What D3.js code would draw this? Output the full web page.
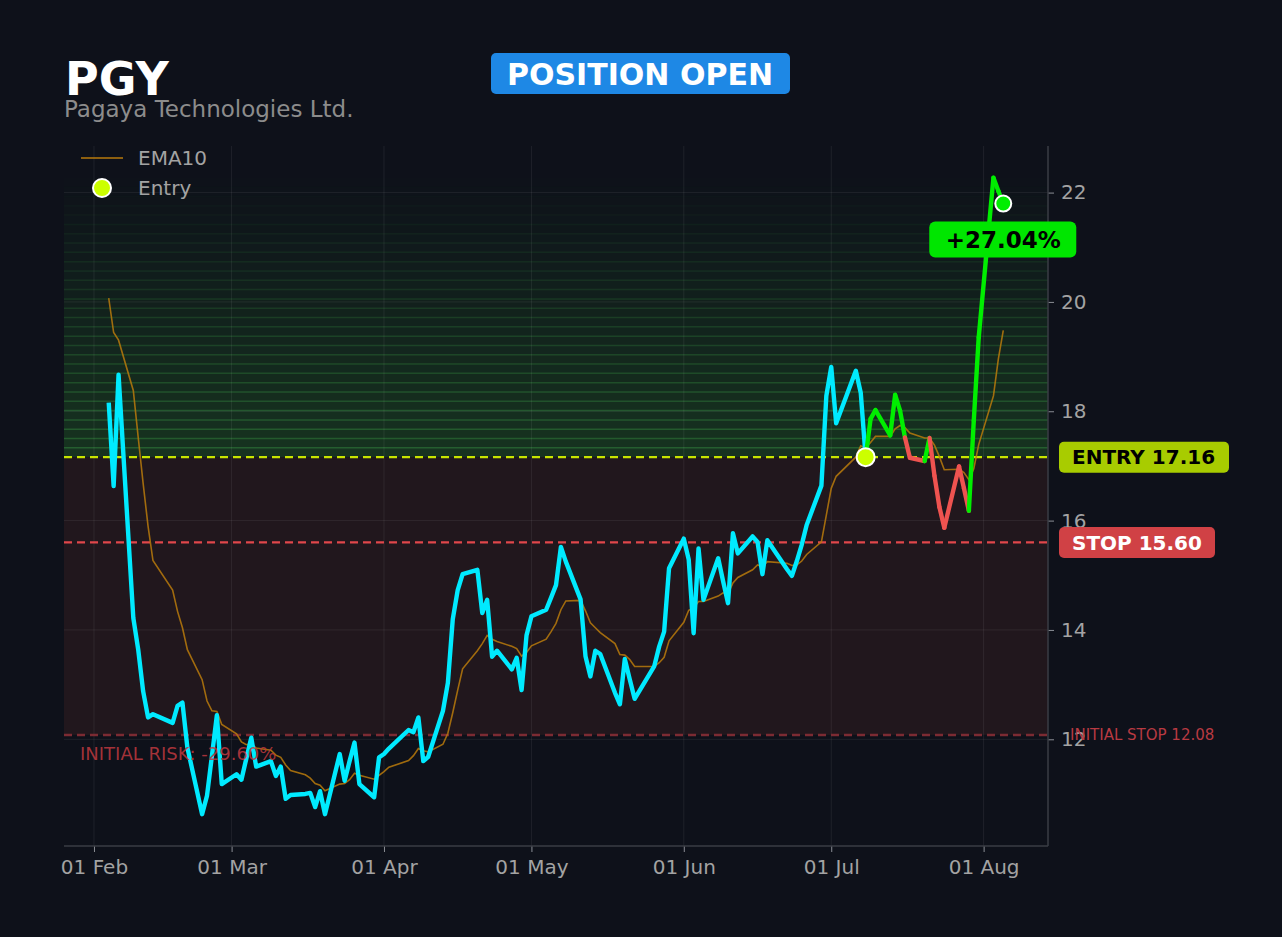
<!DOCTYPE html>
<html>
<head>
<meta charset="utf-8">
<script src="https://cdn.jsdelivr.net/npm/d3@7"></script>
<style>
  html, body { margin: 0; padding: 0; background: #0e111a; }
  svg { display: block; font-family: "DejaVu Sans", sans-serif; }
</style>
</head>
<body>
<div id="chart"></div>
<script>
// trading days, closing price and EMA10
var dates = [
  "2026-02-04","2026-02-05","2026-02-06","2026-02-09","2026-02-10","2026-02-11","2026-02-12","2026-02-13",
  "2026-02-17","2026-02-18","2026-02-19","2026-02-20","2026-02-23","2026-02-24","2026-02-25","2026-02-26","2026-02-27",
  "2026-03-02","2026-03-03","2026-03-04","2026-03-05","2026-03-06","2026-03-09","2026-03-10","2026-03-11","2026-03-12","2026-03-13",
  "2026-03-16","2026-03-17","2026-03-18","2026-03-19","2026-03-20","2026-03-23","2026-03-24","2026-03-25","2026-03-26","2026-03-27",
  "2026-03-30","2026-03-31","2026-04-01","2026-04-02","2026-04-06","2026-04-07","2026-04-08","2026-04-09","2026-04-10",
  "2026-04-13","2026-04-14","2026-04-15","2026-04-16","2026-04-17","2026-04-20","2026-04-21","2026-04-22","2026-04-23","2026-04-24",
  "2026-04-27","2026-04-28","2026-04-29","2026-04-30","2026-05-01","2026-05-04","2026-05-05","2026-05-06","2026-05-07","2026-05-08",
  "2026-05-11","2026-05-12","2026-05-13","2026-05-14","2026-05-15","2026-05-18","2026-05-19","2026-05-20","2026-05-21","2026-05-22",
  "2026-05-26","2026-05-27","2026-05-28","2026-05-29","2026-06-01","2026-06-02","2026-06-03","2026-06-04","2026-06-05",
  "2026-06-08","2026-06-09","2026-06-10","2026-06-11","2026-06-12","2026-06-15","2026-06-16","2026-06-17","2026-06-18",
  "2026-06-22","2026-06-23","2026-06-24","2026-06-25","2026-06-26","2026-06-29","2026-06-30","2026-07-01","2026-07-02",
  "2026-07-06","2026-07-07","2026-07-08","2026-07-09","2026-07-10","2026-07-13","2026-07-14","2026-07-15","2026-07-16","2026-07-17",
  "2026-07-20","2026-07-21","2026-07-22","2026-07-23","2026-07-24","2026-07-27","2026-07-28","2026-07-29","2026-07-30","2026-07-31",
  "2026-08-03","2026-08-04","2026-08-05"
]
var close = [
  18.16,16.63,18.67,14.22,13.64,12.88,12.40,12.46,
  12.30,12.61,12.67,11.85,10.63,10.97,11.70,12.44,11.18,
  11.36,11.26,11.65,12.03,11.50,11.60,11.33,11.50,10.91,10.98,
  11.00,11.02,10.76,11.05,10.63,11.73,11.24,11.60,11.94,11.18,
  10.94,11.67,11.73,11.83,12.17,12.13,12.40,11.60,11.68,
  12.52,13.03,14.20,14.73,15.02,15.10,14.31,14.55,13.51,13.62,
  13.28,13.49,12.90,13.90,14.25,14.37,14.59,14.82,15.52,15.25,
  14.56,13.52,13.15,13.62,13.56,12.85,12.64,13.47,13.10,12.74,
  13.34,13.70,13.97,15.13,15.67,15.29,13.94,15.49,14.55,
  15.31,14.89,14.49,15.77,15.40,15.71,15.61,15.02,15.64,
  15.11,14.99,15.26,15.56,15.92,16.64,18.28,18.81,17.78,
  18.74,18.34,17.16,17.86,18.02,17.56,18.30,18.01,17.52,17.15,
  17.09,17.51,16.82,16.25,15.87,16.99,16.59,16.18,17.83,19.35,
  22.27,22.03,21.80
]
var ema10 = [
  20.07,19.44,19.30,18.38,17.52,16.68,15.90,15.27,
  14.73,14.34,14.04,13.64,13.09,12.70,12.52,12.51,12.27,
  12.10,11.95,11.90,11.92,11.84,11.80,11.71,11.67,11.53,11.43,
  11.35,11.29,11.19,11.16,11.06,11.18,11.19,11.26,11.38,11.34,
  11.27,11.34,11.41,11.49,11.61,11.70,11.83,11.79,11.77,
  11.91,12.11,12.49,12.90,13.29,13.62,13.75,13.90,13.83,13.79,
  13.70,13.66,13.52,13.59,13.71,13.83,13.97,14.12,14.37,14.53,
  14.54,14.35,14.13,14.04,13.95,13.75,13.55,13.54,13.46,13.33,
  13.33,13.40,13.50,13.80,14.14,14.36,14.40,14.52,14.52,
  14.62,14.68,14.66,14.86,14.96,15.10,15.19,15.16,15.25,
  15.22,15.18,15.19,15.26,15.38,15.61,16.10,16.59,16.81,
  17.16,17.37,17.33,17.43,17.54,17.54,17.68,17.74,17.70,17.60,
  17.51,17.51,17.38,17.17,16.93,16.94,16.88,16.75,16.95,17.39,
  18.28,18.96,19.48
]

var ticker = "PGY"
var companyName = "Pagaya Technologies Ltd."
var statusText = "POSITION OPEN"
var entryDate = "2026-07-08"
var entryPrice = 17.16
var stopPrice = 15.60
var initialStop = 12.08
var returnText = "+27.04%"
var initialRiskText = "INITIAL RISK: -29.60%"

var W = 1282, H = 937
var plot = {left: 64, right: 1048, top: 146, bottom: 846}

var parseTime = d3.timeParse("%Y-%m-%d")
var data = dates.map(function(d, i) {
  return {date: parseTime(d), close: close[i], ema: ema10[i]}
})
var entryIdx = dates.indexOf(entryDate)
var last = data[data.length - 1]

var svg = d3.select('#chart').append('svg')
    .attr('width', W)
    .attr('height', H)

svg.append('rect').attr('width', W).attr('height', H).attr('fill', '#0e111a')

// matplotlib-like 5% margins
var xExt = d3.extent(data, function(d) {return d.date})
var xPad = (xExt[1] - xExt[0]) * 0.05
var yMin = d3.min(data, function(d) {return d.close})
var yMax = d3.max(data, function(d) {return d.close})
var yPad = (yMax - yMin) * 0.05

var x = d3.scaleTime()
    .domain([new Date(+xExt[0] - xPad), new Date(+xExt[1] + xPad)])
    .range([plot.left, plot.right])
var y = d3.scaleLinear()
    .domain([yMin - yPad, yMax + yPad])
    .range([plot.bottom, plot.top])

var g = svg.append('g')

// risk zone (entry down to initial stop)
g.append('rect')
    .attr('x', plot.left)
    .attr('width', plot.right - plot.left)
    .attr('y', y(entryPrice))
    .attr('height', y(initialStop) - y(entryPrice))
    .attr('fill', '#21171d')

// profit zone: stacked green bands fading upward, entry up to the high
var nBands = 30
var bandH = (yMax - entryPrice) / nBands
var bands = d3.range(nBands)
g.selectAll('.band')
  .data(bands)
  .enter().append('rect')
    .attr('class', 'band')
    .attr('x', plot.left)
    .attr('width', plot.right - plot.left)
    .attr('y', function(i) {return y(entryPrice + (i + 1) * bandH)})
    .attr('height', function(i) {return y(entryPrice + i * bandH) - y(entryPrice + (i + 1) * bandH)})
    .attr('fill', '#236328')
    .attr('fill-opacity', function(i) {return 0.42 * (1 - i / nBands)})
g.selectAll('.bandline')
  .data(bands)
  .enter().append('line')
    .attr('class', 'bandline')
    .attr('x1', plot.left)
    .attr('x2', plot.right)
    .attr('y1', function(i) {return y(entryPrice + (i + 1) * bandH)})
    .attr('y2', function(i) {return y(entryPrice + (i + 1) * bandH)})
    .attr('stroke', '#32823c')
    .attr('stroke-width', 1.5)
    .attr('stroke-opacity', function(i) {return 0.58 * (1 - (i + 1) / nBands)})

// grid
var xTicks = x.ticks(d3.timeMonth.every(1))
var yTicks = y.ticks(6)
g.selectAll('.vgrid')
  .data(xTicks)
  .enter().append('line')
    .attr('x1', function(d) {return x(d)})
    .attr('x2', function(d) {return x(d)})
    .attr('y1', plot.top)
    .attr('y2', plot.bottom)
    .attr('stroke', '#ffffff')
    .attr('stroke-opacity', 0.07)
g.selectAll('.hgrid')
  .data(yTicks)
  .enter().append('line')
    .attr('x1', plot.left)
    .attr('x2', plot.right)
    .attr('y1', function(d) {return y(d)})
    .attr('y2', function(d) {return y(d)})
    .attr('stroke', '#ffffff')
    .attr('stroke-opacity', 0.07)

// level lines
var levels = [
  {v: initialStop, color: '#7c2b33', w: 2.5},
  {v: stopPrice, color: '#e0474b', w: 2.2},
  {v: entryPrice, color: '#c8e600', w: 2.2}
]
g.selectAll('.level')
  .data(levels)
  .enter().append('line')
    .attr('x1', plot.left)
    .attr('x2', plot.right)
    .attr('y1', function(d) {return y(d.v)})
    .attr('y2', function(d) {return y(d.v)})
    .attr('stroke', function(d) {return d.color})
    .attr('stroke-width', function(d) {return d.w})
    .attr('stroke-dasharray', '8,5')

// EMA10
var emaLine = d3.line()
    .x(function(d) {return x(d.date)})
    .y(function(d) {return y(d.ema)})
g.append('path')
    .attr('d', emaLine(data))
    .attr('fill', 'none')
    .attr('stroke', '#b87a0c')
    .attr('stroke-opacity', 0.85)
    .attr('stroke-width', 1.6)

// price before entry
var priceLine = d3.line()
    .x(function(d) {return x(d.date)})
    .y(function(d) {return y(d.close)})
g.append('path')
    .attr('d', priceLine(data.slice(0, entryIdx + 1)))
    .attr('fill', 'none')
    .attr('stroke', '#00eaff')
    .attr('stroke-width', 4.4)
    .attr('stroke-linejoin', 'round')

// price after entry, coloured per segment
var segs = d3.range(entryIdx + 1, data.length).map(function(i) {return [data[i - 1], data[i]]})
g.selectAll('.seg')
  .data(segs)
  .enter().append('path')
    .attr('class', 'seg')
    .attr('d', function(d) {return priceLine(d)})
    .attr('fill', 'none')
    .attr('stroke', function(d) {return d[1].close >= entryPrice ? '#00ee00' : '#ef5350'})
    .attr('stroke-width', 4.4)
    .attr('stroke-linecap', 'round')

// axes
var xAxis = g.append('g')
    .attr('transform', 'translate(0,' + plot.bottom + ')')
    .call(d3.axisBottom(x).ticks(d3.timeMonth.every(1)).tickFormat(d3.timeFormat('%d %b')).tickSize(6).tickPadding(8))
var yAxis = g.append('g')
    .attr('transform', 'translate(' + plot.right + ',0)')
    .call(d3.axisRight(y).ticks(6).tickSize(6).tickPadding(7))
;[xAxis, yAxis].forEach(function(a) {
  a.select('.domain').remove()
  a.selectAll('line').attr('stroke', '#8a8d94')
  a.selectAll('text').attr('fill', '#a3a3a3').attr('font-size', 20).attr('font-family', '"DejaVu Sans", sans-serif')
})
g.append('line')
    .attr('x1', plot.left).attr('x2', plot.right)
    .attr('y1', plot.bottom).attr('y2', plot.bottom)
    .attr('stroke', '#3a3d45').attr('stroke-width', 1.5)
g.append('line')
    .attr('x1', plot.right).attr('x2', plot.right)
    .attr('y1', plot.top).attr('y2', plot.bottom)
    .attr('stroke', '#3a3d45').attr('stroke-width', 1.5)

// markers
g.append('circle')
    .attr('cx', x(data[entryIdx].date))
    .attr('cy', y(entryPrice))
    .attr('r', 9)
    .attr('fill', '#ccff00')
    .attr('stroke', '#ffffff')
    .attr('stroke-width', 2)
g.append('circle')
    .attr('cx', x(last.date))
    .attr('cy', y(last.close))
    .attr('r', 8)
    .attr('fill', '#00ee00')
    .attr('stroke', '#ffffff')
    .attr('stroke-width', 2)

// return badge
var rb = g.append('g').attr('transform', 'translate(' + x(last.date) + ',' + (y(last.close) + 36) + ')')
rb.append('rect')
    .attr('x', -74).attr('y', -18).attr('width', 147).attr('height', 36)
    .attr('rx', 6)
    .attr('fill', '#00e600')
rb.append('text')
    .attr('text-anchor', 'middle')
    .attr('dy', '0.36em')
    .attr('font-size', 23)
    .attr('font-weight', 'bold')
    .attr('fill', '#000000')
    .text(returnText)

// right side level labels
var eb = g.append('g').attr('transform', 'translate(1059,' + y(entryPrice) + ')')
eb.append('rect')
    .attr('x', 0).attr('y', -15.5).attr('width', 170).attr('height', 31).attr('rx', 5)
    .attr('fill', '#a8cc00')
eb.append('text')
    .attr('x', 13).attr('dy', '0.36em')
    .attr('font-size', 20).attr('font-weight', 'bold').attr('fill', '#000000')
    .text('ENTRY ' + entryPrice.toFixed(2))
var sb = g.append('g').attr('transform', 'translate(1059,' + y(stopPrice) + ')')
sb.append('rect')
    .attr('x', 0).attr('y', -15.5).attr('width', 156).attr('height', 31).attr('rx', 5)
    .attr('fill', '#d04145')
sb.append('text')
    .attr('x', 13).attr('dy', '0.36em')
    .attr('font-size', 20).attr('font-weight', 'bold').attr('fill', '#ffffff')
    .text('STOP ' + stopPrice.toFixed(2))
g.append('text')
    .attr('x', 1070).attr('y', y(initialStop)).attr('dy', '0.36em')
    .attr('font-size', 15).attr('fill', '#b83a42')
    .text('INITIAL STOP ' + initialStop.toFixed(2))
g.append('text')
    .attr('x', 80).attr('y', y(initialStop) + 19).attr('dy', '0.36em')
    .attr('font-size', 18).attr('fill', '#c0393f').attr('fill-opacity', 0.85)
    .text(initialRiskText)

// legend
var lg = g.append('g')
lg.append('line')
    .attr('x1', 81).attr('x2', 123).attr('y1', 158).attr('y2', 158)
    .attr('stroke', '#b87a0c').attr('stroke-width', 1.6)
lg.append('text')
    .attr('x', 138).attr('y', 158).attr('dy', '0.36em')
    .attr('font-size', 20).attr('fill', '#a3a3a3')
    .text('EMA10')
lg.append('circle')
    .attr('cx', 102).attr('cy', 188).attr('r', 9)
    .attr('fill', '#ccff00').attr('stroke', '#ffffff').attr('stroke-width', 2)
lg.append('text')
    .attr('x', 138).attr('y', 188).attr('dy', '0.36em')
    .attr('font-size', 20).attr('fill', '#a3a3a3')
    .text('Entry')

// titles
svg.append('text')
    .attr('x', 65).attr('y', 95)
    .attr('font-size', 46).attr('font-weight', 'bold').attr('fill', '#ffffff')
    .text(ticker)
svg.append('text')
    .attr('x', 64).attr('y', 117)
    .attr('font-size', 23).attr('fill', '#8c8c8c')
    .text(companyName)
var st = svg.append('g').attr('transform', 'translate(640,74)')
st.append('rect')
    .attr('x', -149).attr('y', -21).attr('width', 299).attr('height', 41).attr('rx', 5)
    .attr('fill', '#1e88e5')
st.append('text')
    .attr('text-anchor', 'middle').attr('dy', '0.36em')
    .attr('font-size', 30).attr('font-weight', 'bold').attr('fill', '#ffffff')
    .text(statusText)
</script>
</body>
</html>
